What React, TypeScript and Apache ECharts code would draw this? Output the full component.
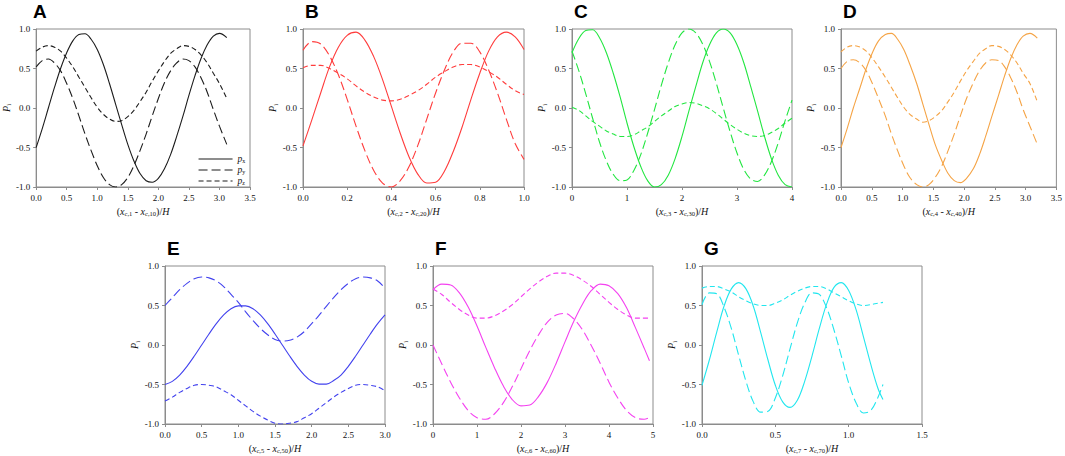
import React, { useEffect, useRef } from "react";
import * as echarts from "echarts";

// ---- data ----
const A_x = [0, 0.1, 0.2, 0.3, 0.4, 0.5, 0.6, 0.7, 0.8, 0.9, 1, 1.1, 1.2, 1.3, 1.4, 1.5, 1.6, 1.7, 1.8, 1.9, 2, 2.1, 2.2, 2.3, 2.4, 2.5, 2.6, 2.7, 2.8, 2.9, 3, 3.12];
const A_px = [-0.5, -0.26, 0, 0.26, 0.5, 0.7, 0.85, 0.93, 0.94, 0.87, 0.74, 0.55, 0.31, 0.05, -0.21, -0.46, -0.67, -0.83, -0.92, -0.94, -0.89, -0.77, -0.59, -0.36, -0.11, 0.16, 0.41, 0.63, 0.8, 0.91, 0.945, 0.89];
const A_py = [0.52, 0.6, 0.62, 0.57, 0.47, 0.31, 0.12, -0.1, -0.33, -0.54, -0.73, -0.88, -0.97, -1.0, -0.97, -0.88, -0.73, -0.54, -0.33, -0.1, 0.12, 0.32, 0.47, 0.57, 0.62, 0.6, 0.52, 0.38, 0.2, -0.02, -0.23, -0.46];
const A_pz = [0.72, 0.77, 0.79, 0.77, 0.72, 0.63, 0.52, 0.39, 0.26, 0.13, 0.01, -0.08, -0.14, -0.17, -0.16, -0.11, -0.03, 0.08, 0.2, 0.34, 0.47, 0.59, 0.69, 0.75, 0.79, 0.78, 0.74, 0.67, 0.57, 0.44, 0.31, 0.12];

const B_x = [0, 0.04, 0.08, 0.12, 0.16, 0.2, 0.24, 0.28, 0.32, 0.36, 0.4, 0.44, 0.48, 0.52, 0.56, 0.6, 0.64, 0.68, 0.72, 0.76, 0.8, 0.84, 0.88, 0.92, 0.96, 1];
const B_px = [-0.48, -0.15, 0.19, 0.52, 0.77, 0.92, 0.96, 0.86, 0.65, 0.36, 0.02, -0.32, -0.62, -0.84, -0.95, -0.94, -0.8, -0.55, -0.24, 0.11, 0.44, 0.72, 0.9, 0.96, 0.9, 0.74];
const B_py = [0.73, 0.84, 0.81, 0.66, 0.42, 0.11, -0.23, -0.54, -0.79, -0.95, -1.0, -0.92, -0.74, -0.47, -0.14, 0.19, 0.48, 0.71, 0.82, 0.82, 0.71, 0.48, 0.19, -0.14, -0.45, -0.65];
const B_pz = [0.51, 0.54, 0.54, 0.5, 0.44, 0.37, 0.28, 0.2, 0.14, 0.1, 0.09, 0.11, 0.16, 0.22, 0.3, 0.39, 0.46, 0.52, 0.55, 0.55, 0.52, 0.46, 0.39, 0.3, 0.22, 0.17];

const C_x = [0, 0.125, 0.25, 0.375, 0.5, 0.625, 0.75, 0.875, 1, 1.125, 1.25, 1.375, 1.5, 1.625, 1.75, 1.875, 2, 2.125, 2.25, 2.375, 2.5, 2.625, 2.75, 2.875, 3, 3.125, 3.25, 3.375, 3.5, 3.625, 3.75, 3.875, 4];
const C_px = [0.7, 0.88, 0.98, 0.99, 0.89, 0.7, 0.44, 0.14, -0.19, -0.49, -0.74, -0.92, -1.0, -0.97, -0.85, -0.64, -0.36, -0.04, 0.27, 0.57, 0.8, 0.95, 1.0, 0.95, 0.8, 0.57, 0.27, -0.04, -0.36, -0.64, -0.85, -0.97, -1.0];
const C_py = [0.72, 0.47, 0.18, -0.13, -0.43, -0.67, -0.84, -0.92, -0.91, -0.79, -0.59, -0.32, -0.02, 0.29, 0.57, 0.8, 0.95, 1.0, 0.95, 0.81, 0.59, 0.31, 0.0, -0.3, -0.57, -0.78, -0.9, -0.93, -0.85, -0.68, -0.44, -0.16, 0.1];
const C_pz = [0.01, -0.03, -0.1, -0.17, -0.23, -0.29, -0.33, -0.36, -0.36, -0.34, -0.29, -0.24, -0.17, -0.1, -0.04, 0.02, 0.05, 0.07, 0.06, 0.03, -0.01, -0.07, -0.14, -0.21, -0.27, -0.32, -0.35, -0.36, -0.35, -0.31, -0.26, -0.19, -0.13];

const D_x = [0, 0.1, 0.2, 0.31, 0.41, 0.51, 0.61, 0.72, 0.82, 0.92, 1.02, 1.12, 1.23, 1.33, 1.43, 1.53, 1.64, 1.74, 1.84, 1.94, 2.04, 2.15, 2.25, 2.35, 2.45, 2.56, 2.66, 2.76, 2.86, 2.96, 3.07, 3.19];
const D_px = [-0.5, -0.26, 0, 0.26, 0.5, 0.7, 0.85, 0.93, 0.945, 0.87, 0.74, 0.55, 0.31, 0.05, -0.21, -0.46, -0.67, -0.83, -0.92, -0.945, -0.89, -0.77, -0.59, -0.36, -0.11, 0.16, 0.41, 0.63, 0.8, 0.91, 0.945, 0.885];
const D_py = [0.5, 0.59, 0.61, 0.57, 0.47, 0.31, 0.12, -0.1, -0.33, -0.54, -0.73, -0.88, -0.97, -1.0, -0.97, -0.88, -0.73, -0.54, -0.33, -0.1, 0.12, 0.32, 0.47, 0.57, 0.61, 0.6, 0.52, 0.38, 0.2, -0.02, -0.23, -0.46];
const D_pz = [0.71, 0.77, 0.79, 0.77, 0.72, 0.63, 0.52, 0.39, 0.26, 0.13, 0.01, -0.08, -0.14, -0.18, -0.16, -0.11, -0.03, 0.08, 0.2, 0.34, 0.47, 0.59, 0.69, 0.75, 0.79, 0.78, 0.74, 0.67, 0.57, 0.44, 0.31, 0.08];

const E_x = [0, 0.1, 0.2, 0.3, 0.4, 0.5, 0.6, 0.7, 0.8, 0.9, 1, 1.1, 1.2, 1.3, 1.4, 1.5, 1.6, 1.7, 1.8, 1.9, 2, 2.1, 2.2, 2.3, 2.4, 2.5, 2.6, 2.7, 2.8, 2.9, 3];
const E_px = [-0.5, -0.46, -0.38, -0.27, -0.14, 0, 0.14, 0.27, 0.38, 0.46, 0.495, 0.495, 0.46, 0.38, 0.27, 0.14, 0, -0.14, -0.27, -0.38, -0.46, -0.495, -0.495, -0.45, -0.38, -0.27, -0.14, 0, 0.14, 0.27, 0.38];
const E_py = [0.5, 0.6, 0.7, 0.78, 0.84, 0.86, 0.85, 0.81, 0.74, 0.64, 0.54, 0.42, 0.31, 0.21, 0.13, 0.07, 0.05, 0.06, 0.1, 0.17, 0.27, 0.375, 0.49, 0.6, 0.7, 0.78, 0.84, 0.86, 0.85, 0.81, 0.72];
const E_pz = [-0.71, -0.66, -0.6, -0.55, -0.51, -0.5, -0.51, -0.53, -0.58, -0.63, -0.7, -0.77, -0.84, -0.9, -0.95, -0.99, -1.0, -0.99, -0.97, -0.92, -0.87, -0.8, -0.73, -0.66, -0.6, -0.55, -0.51, -0.5, -0.51, -0.53, -0.58];

const F_x = [0, 0.2, 0.4, 0.6, 0.8, 1, 1.2, 1.4, 1.6, 1.8, 2, 2.2, 2.4, 2.6, 2.8, 3, 3.2, 3.4, 3.6, 3.8, 4, 4.2, 4.4, 4.6, 4.8, 4.92];
const F_px = [0.7, 0.77, 0.76, 0.66, 0.48, 0.24, -0.03, -0.29, -0.52, -0.69, -0.77, -0.76, -0.65, -0.47, -0.23, 0.04, 0.3, 0.52, 0.69, 0.77, 0.75, 0.65, 0.47, 0.22, -0.04, -0.2];
const F_py = [0, -0.24, -0.47, -0.67, -0.83, -0.92, -0.94, -0.87, -0.73, -0.53, -0.3, -0.07, 0.13, 0.29, 0.38, 0.4, 0.33, 0.19, -0.01, -0.23, -0.47, -0.67, -0.83, -0.92, -0.94, -0.92];
const F_pz = [0.71, 0.64, 0.54, 0.45, 0.38, 0.34, 0.34, 0.37, 0.43, 0.51, 0.61, 0.71, 0.8, 0.87, 0.91, 0.91, 0.88, 0.82, 0.74, 0.64, 0.54, 0.45, 0.38, 0.34, 0.34, 0.34];

const G_x = [0, 0.05, 0.1, 0.15, 0.2, 0.25, 0.3, 0.35, 0.4, 0.45, 0.5, 0.55, 0.6, 0.65, 0.7, 0.75, 0.8, 0.85, 0.9, 0.95, 1, 1.05, 1.1, 1.15, 1.2, 1.234];
const G_px = [-0.51, -0.19, 0.16, 0.49, 0.71, 0.79, 0.71, 0.49, 0.16, -0.19, -0.51, -0.72, -0.79, -0.7, -0.46, -0.14, 0.21, 0.52, 0.73, 0.79, 0.69, 0.45, 0.11, -0.24, -0.55, -0.69];
const G_py = [0.51, 0.66, 0.65, 0.48, 0.21, -0.13, -0.46, -0.72, -0.85, -0.84, -0.67, -0.39, -0.05, 0.28, 0.53, 0.66, 0.64, 0.47, 0.19, -0.14, -0.48, -0.73, -0.86, -0.83, -0.66, -0.5];
const G_pz = [0.72, 0.74, 0.74, 0.71, 0.67, 0.61, 0.56, 0.52, 0.5, 0.5, 0.53, 0.57, 0.63, 0.68, 0.72, 0.74, 0.74, 0.71, 0.66, 0.61, 0.56, 0.52, 0.5, 0.51, 0.53, 0.54];

const PANEL_LABELS = ["A", "B", "C", "D", "E", "F", "G"];
const X_MAX = [3.5, 1, 4, 3.5, 3, 5, 1.5];
const X_STEP = [0.5, 0.2, 1, 0.5, 0.5, 1, 0.5];
const X_DEC = [1, 1, 0, 1, 1, 0, 1];
const Y_TICKS = [-1, -0.5, 0, 0.5, 1];
const COMPONENTS = ["x", "y", "z"];

const SERIF = "Liberation Serif";
const SANS = "Liberation Sans";

export default function App() {
  const ref = useRef<HTMLDivElement>(null);

  useEffect(() => {
    if (!ref.current) return;
    const chart = echarts.init(ref.current, undefined, { renderer: "svg" });

    const panels = [
      { x: A_x, p: [A_px, A_py, A_pz], color: "#1c1c1c" },
      { x: B_x, p: [B_px, B_py, B_pz], color: "#ff3c3c" },
      { x: C_x, p: [C_px, C_py, C_pz], color: "#22e640" },
      { x: D_x, p: [D_px, D_py, D_pz], color: "#f5a446" },
      { x: E_x, p: [E_px, E_py, E_pz], color: "#4242ee" },
      { x: F_x, p: [F_px, F_py, F_pz], color: "#f442f0" },
      { x: G_x, p: [G_px, G_py, G_pz], color: "#22e6ee" },
    ];

    const layout = [
      { left: 31, top: 29, width: 219 },
      { left: 303, top: 29, width: 221 },
      { left: 572, top: 29, width: 220 },
      { left: 841, top: 29, width: 220 },
      { left: 165, top: 266, width: 220 },
      { left: 433, top: 266, width: 220 },
      { left: 702, top: 266, width: 220 },
    ];
    const H = 158;
    const grey = "#8c8c8c";

    const rich = {
      t: { fontFamily: SERIF, fontSize: 10, color: "#111", lineHeight: 12 },
      i: { fontFamily: SERIF, fontSize: 10, fontStyle: "italic", color: "#111", lineHeight: 12 },
      s: { fontFamily: SERIF, fontSize: 6.5, color: "#111", lineHeight: 12, verticalAlign: "bottom" },
    };
    const legendRich = {
      i: { fontFamily: SERIF, fontSize: 9.5, fontStyle: "italic", color: "#111", lineHeight: 10 },
      s: { fontFamily: SERIF, fontSize: 6, color: "#111", lineHeight: 10, verticalAlign: "bottom" },
    };

    const dashes = ["solid", [9, 4], [5, 3]];

    const grids: any[] = [];
    const xAxes: any[] = [];
    const yAxes: any[] = [];
    const series: any[] = [];
    const titles: any[] = [];

    panels.forEach((pn, k) => {
      const L = layout[k];
      grids.push({
        left: L.left,
        top: L.top,
        width: L.width,
        height: H,
        show: true,
        borderColor: grey,
        borderWidth: 1,
        containLabel: false,
      });
      const n = k + 1;
      xAxes.push({
        type: "value",
        gridIndex: k,
        min: 0,
        max: X_MAX[k],
        interval: X_STEP[k],
        name: `{t|(}{i|x}{s|c,${n}}{t| - }{i|x}{s|c,${n}0}{t|)/}{i|H}`,
        nameLocation: "middle",
        nameGap: 18,
        nameTextStyle: { rich },
        axisLine: { show: true, onZero: false, lineStyle: { color: grey, width: 1 } },
        axisTick: { show: true, length: 3, inside: false, lineStyle: { color: grey } },
        axisLabel: {
          margin: 6,
          fontFamily: SERIF,
          fontSize: 9,
          color: "#111",
          formatter: (v: number) => v.toFixed(X_DEC[k]),
        },
        splitLine: { show: false },
      });
      yAxes.push({
        type: "value",
        gridIndex: k,
        min: Y_TICKS[0],
        max: Y_TICKS[Y_TICKS.length - 1],
        interval: 0.5,
        name: "{i|P}{s|i}",
        nameLocation: "middle",
        nameRotate: 90,
        nameGap: 20,
        nameTextStyle: { rich },
        axisLine: { show: true, onZero: false, lineStyle: { color: grey, width: 1 } },
        axisTick: { show: true, length: 3, inside: false, lineStyle: { color: grey } },
        axisLabel: {
          margin: 6,
          fontFamily: SERIF,
          fontSize: 9,
          color: "#111",
          formatter: (v: number) => v.toFixed(1),
        },
        splitLine: { show: false },
      });
      pn.p.forEach((vals, c) => {
        series.push({
          type: "line",
          name: k === 0 ? `p_${COMPONENTS[c]}` : `${PANEL_LABELS[k]} p_${COMPONENTS[c]}`,
          xAxisIndex: k,
          yAxisIndex: k,
          data: pn.x.map((xv, i) => [xv, vals[i]]),
          smooth: 0.35,
          symbol: "none",
          showSymbol: false,
          lineStyle: { color: pn.color, width: 1.1, type: dashes[c] },
          itemStyle: { color: pn.color },
          emphasis: { disabled: true },
        });
      });
      titles.push({
        text: PANEL_LABELS[k],
        left: L.left + 2,
        top: L.top - 27,
        padding: 0,
        textStyle: { fontFamily: SANS, fontWeight: "bold", fontSize: 19, color: "#000" },
      });
    });

    chart.setOption({
      animation: false,
      backgroundColor: "#ffffff",
      title: titles,
      grid: grids,
      xAxis: xAxes,
      yAxis: yAxes,
      series,
      legend: {
        orient: "vertical",
        left: 198,
        top: 154,
        itemWidth: 34,
        itemHeight: 8,
        itemGap: 1,
        padding: 0,
        data: ["p_x", "p_y", "p_z"],
        formatter: (name: string) => `{i|p}{s|${name.slice(2)}}`,
        textStyle: { rich: legendRich },
        itemStyle: { opacity: 0 },
        lineStyle: { width: 1.1 },
        selectedMode: false,
      },
    });

    return () => chart.dispose();
  }, []);

  return (
    <div
      ref={ref}
      style={{ position: "absolute", left: 0, top: 0, width: 1065, height: 456, background: "#fff" }}
    />
  );
}
